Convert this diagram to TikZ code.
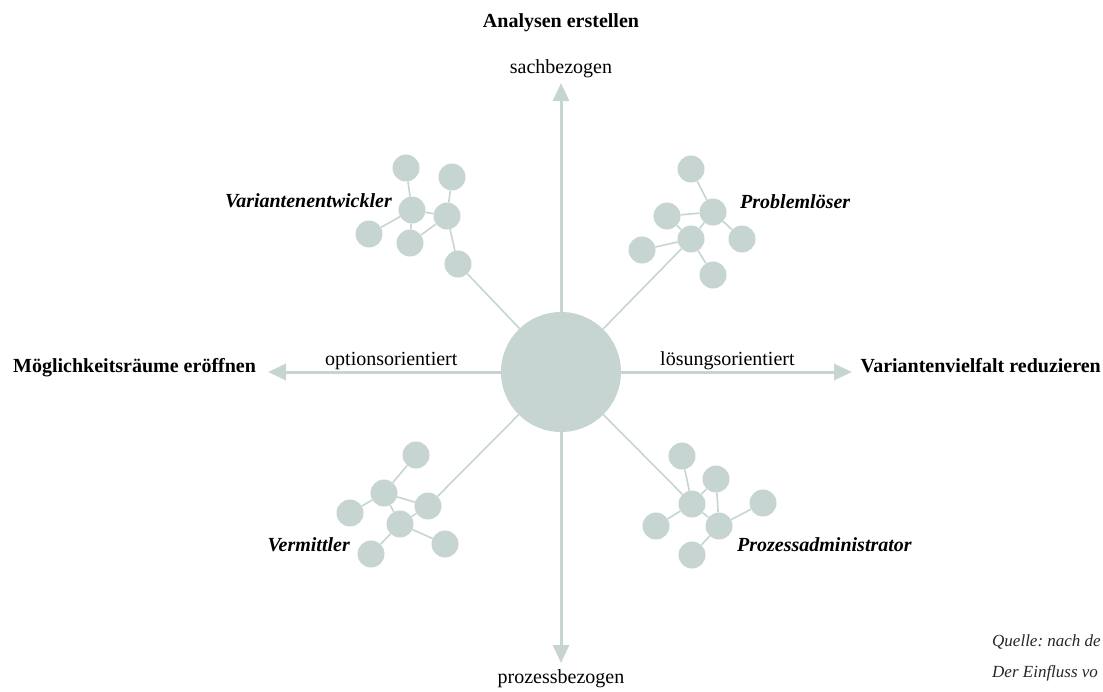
\documentclass[tikz,border=0pt]{standalone}
\usepackage{fontspec}
\setmainfont{Liberation Serif}
\usetikzlibrary{arrows.meta}
\definecolor{sage}{HTML}{C6D5D2}

\begin{document}
\begin{tikzpicture}[x=1pt,y=-1pt,
                    >={Triangle[width=16pt,length=18pt]},
                    dot/.style={circle,fill=sage,minimum size=27pt,inner sep=0pt},
                    axis/.style={draw=sage,fill=sage,line width=3pt},
                    link/.style={draw=sage,line width=1.6pt},
                    head/.style={font=\fontsize{20}{24}\selectfont\bfseries,inner sep=0pt},
                    axlbl/.style={font=\fontsize{20}{24}\selectfont,inner sep=0pt},
                    role/.style={font=\fontsize{20}{24}\selectfont\bfseries\itshape,inner sep=0pt},
                    src/.style={font=\fontsize{17}{20}\selectfont\itshape\frenchspacing,text=black!85,inner sep=0pt}]

                \path[use as bounding box,clip] (0,0) rectangle (1103,691);

                \node[dot,minimum size=120pt] (hub) at (561,372) {};
                \coordinate (N) at (561,83);
                \coordinate (S) at (561,663);
                \coordinate (W) at (268,372);
                \coordinate (E) at (852,372);
                \draw[axis,->] (hub) -- (N);
                \draw[axis,->] (hub) -- (S);
                \draw[axis,->] (hub) -- (W);
                \draw[axis,->] (hub) -- (E);

                \node[dot] (va1) at (406,168) {};
                \node[dot] (va2) at (452,177) {};
                \node[dot] (va3) at (412,210) {};
                \node[dot] (va4) at (447,216) {};
                \node[dot] (va5) at (369,234) {};
                \node[dot] (va6) at (410,243) {};
                \node[dot] (va7) at (458,264) {};
                \draw[link] (va1) -- (va3);
                \draw[link] (va2) -- (va4);
                \draw[link] (va3) -- (va4);
                \draw[link] (va3) -- (va5);
                \draw[link] (va3) -- (va6);
                \draw[link] (va6) -- (va4);
                \draw[link] (va4) -- (va7);
                \draw[link] (va7) -- (hub);

                \node[dot] (pl1) at (691,169) {};
                \node[dot] (pl2) at (667,216) {};
                \node[dot] (pl3) at (713,212) {};
                \node[dot] (pl4) at (691,239) {};
                \node[dot] (pl5) at (642,250) {};
                \node[dot] (pl6) at (742,239) {};
                \node[dot] (pl7) at (713,275) {};
                \draw[link] (pl1) -- (pl3);
                \draw[link] (pl2) -- (pl3);
                \draw[link] (pl2) -- (pl4);
                \draw[link] (pl3) -- (pl4);
                \draw[link] (pl3) -- (pl6);
                \draw[link] (pl4) -- (pl5);
                \draw[link] (pl4) -- (pl7);
                \draw[link] (pl4) -- (hub);

                \node[dot] (vm1) at (416,455) {};
                \node[dot] (vm2) at (384,493) {};
                \node[dot] (vm3) at (350,513) {};
                \node[dot] (vm4) at (428,506) {};
                \node[dot] (vm5) at (400,524) {};
                \node[dot] (vm6) at (445,544) {};
                \node[dot] (vm7) at (371,554) {};
                \draw[link] (vm1) -- (vm2);
                \draw[link] (vm2) -- (vm3);
                \draw[link] (vm2) -- (vm4);
                \draw[link] (vm2) -- (vm5);
                \draw[link] (vm4) -- (vm5);
                \draw[link] (vm5) -- (vm6);
                \draw[link] (vm5) -- (vm7);
                \draw[link] (vm4) -- (hub);

                \node[dot] (pa1) at (682,456) {};
                \node[dot] (pa2) at (716,479) {};
                \node[dot] (pa3) at (692,504) {};
                \node[dot] (pa4) at (763,503) {};
                \node[dot] (pa5) at (656,526) {};
                \node[dot] (pa6) at (719,526) {};
                \node[dot] (pa7) at (692,555) {};
                \draw[link] (pa1) -- (pa3);
                \draw[link] (pa2) -- (pa3);
                \draw[link] (pa2) -- (pa6);
                \draw[link] (pa3) -- (pa5);
                \draw[link] (pa3) -- (pa6);
                \draw[link] (pa6) -- (pa4);
                \draw[link] (pa6) -- (pa7);
                \draw[link] (pa3) -- (hub);

                \node[head,anchor=base] (top) at (561,27) {Analysen erstellen};
                \node[axlbl,anchor=base] (sach) at (561,73) {sachbezogen};
                \node[axlbl,anchor=base] (proz) at (561,683) {prozessbezogen};
                \node[head,anchor=base west] (left) at (13,372) {Möglichkeitsräume eröffnen};
                \node[head,anchor=base east] (right) at (1101,372) {Variantenvielfalt reduzieren};
                \node[axlbl,anchor=base west] (opt) at (325,365) {optionsorientiert};
                \node[axlbl,anchor=base west] (loes) at (660,365) {lösungsorientiert};

                \node[role,anchor=base east] (vaL) at (392,207) {Variantenentwickler};
                \node[role,anchor=base west] (plL) at (740,208) {Problemlöser};
                \node[role,anchor=base east] (vmL) at (350,551) {Vermittler};
                \node[role,anchor=base west] (paL) at (737,551) {Prozessadministrator};

                \node[src,anchor=base west] (q1) at (992,646) {Quelle: nach de};
                \node[src,anchor=base west] (q2) at (992,677) {Der Einfluss vo};

            \end{tikzpicture}
\end{document}
